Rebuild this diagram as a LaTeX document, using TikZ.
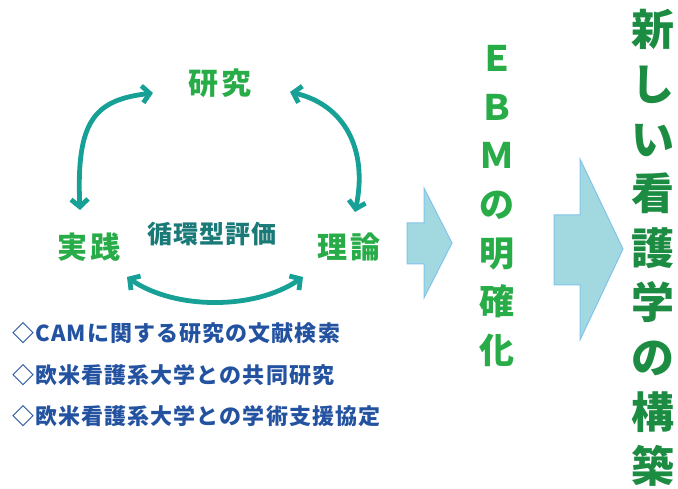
\documentclass[tikz,border=0pt]{standalone}
\usepackage{fontspec}
\newfontfamily\jp{Noto Sans CJK JP}
\newfontfamily\jplbl[LetterSpace=8]{Noto Sans CJK JP}
\newfontfamily\jpcyc[LetterSpace=4]{Noto Sans CJK JP}
\newfontfamily\jplist[LetterSpace=5]{Noto Sans CJK JP}
\usetikzlibrary{arrows.meta}
\definecolor{kgreen}{RGB}{40,172,72}
\definecolor{dgreen}{RGB}{28,140,66}
\definecolor{tealarc}{RGB}{22,160,150}
\definecolor{tealtxt}{RGB}{25,122,120}
\definecolor{listblue}{RGB}{35,82,160}
\definecolor{afill}{RGB}{162,216,224}
\definecolor{aline}{RGB}{130,195,235}
\begin{document}
\begin{tikzpicture}[x=1pt,y=-1pt,
  lbl/.style={font=\jplbl\bfseries\fontsize{30}{30}\selectfont, text=kgreen, inner sep=0pt},
  cyctxt/.style={font=\jpcyc\bfseries\fontsize{25}{25}\selectfont, text=tealtxt, inner sep=0pt},
  listtxt/.style={font=\jplist\bfseries\fontsize{22}{22}\selectfont, text=listblue, inner sep=0pt, anchor=west},
  cyc/.style={draw=tealarc, line width=4.8pt, line cap=round,
    {Straight Barb[length=7.5pt,width=17pt]}-{Straight Barb[length=7.5pt,width=17pt]}},
  blockarrow/.style={fill=afill, draw=aline, line width=1pt, line join=miter},
  vtxt/.style={align=center, inner sep=0pt}
]
\useasboundingbox (0,0) rectangle (678,489);

% cycle labels
\node[lbl] (kenkyu) at (220,83) {研究};
\node[lbl] (jissen) at (89,247) {実践};
\node[lbl] (riron) at (349,247) {理論};
\node[cyctxt] (junkan) at (212,234) {循環型評価};

% arc end points
\coordinate (l1) at (80,210);
\coordinate (l2) at (153,93);
\coordinate (r1) at (290,92);
\coordinate (r2) at (355,212);
\coordinate (b1) at (127,277);
\coordinate (b2) at (303,277);

\draw[cyc] (l1) .. controls (76,120) and (95,100) .. (l2);
\draw[cyc] (r1) .. controls (345,105) and (368,150) .. (r2);
\draw[cyc] (b1) .. controls (175,310) and (255,310) .. (b2);

% list
\node[listtxt] (li1) at (12,333) {◇CAMに関する研究の文献検索};
\node[listtxt] (li2) at (12,375) {◇欧米看護系大学との共同研究};
\node[listtxt] (li3) at (12,416) {◇欧米看護系大学との学術支援協定};

% block arrows
\draw[blockarrow] (407,223) -- (424,223) -- (424,188) -- (452,243) -- (424,298) -- (424,264) -- (407,264) -- cycle;
\draw[blockarrow] (554,215) -- (580,215) -- (580,159) -- (623,249) -- (580,340) -- (580,285) -- (554,285) -- cycle;

% vertical texts
\node[vtxt, font=\jp\bfseries\fontsize{35}{48.7}\selectfont, text=kgreen] (ebm) at (497,206)
  {Ｅ\\Ｂ\\Ｍ\\の\\明\\確\\化};
\node[vtxt, font=\jp\bfseries\fontsize{43}{54.6}\selectfont, text=dgreen] (new) at (653,248)
  {新\\し\\い\\看\\護\\学\\の\\構\\築};
\end{tikzpicture}
\end{document}
